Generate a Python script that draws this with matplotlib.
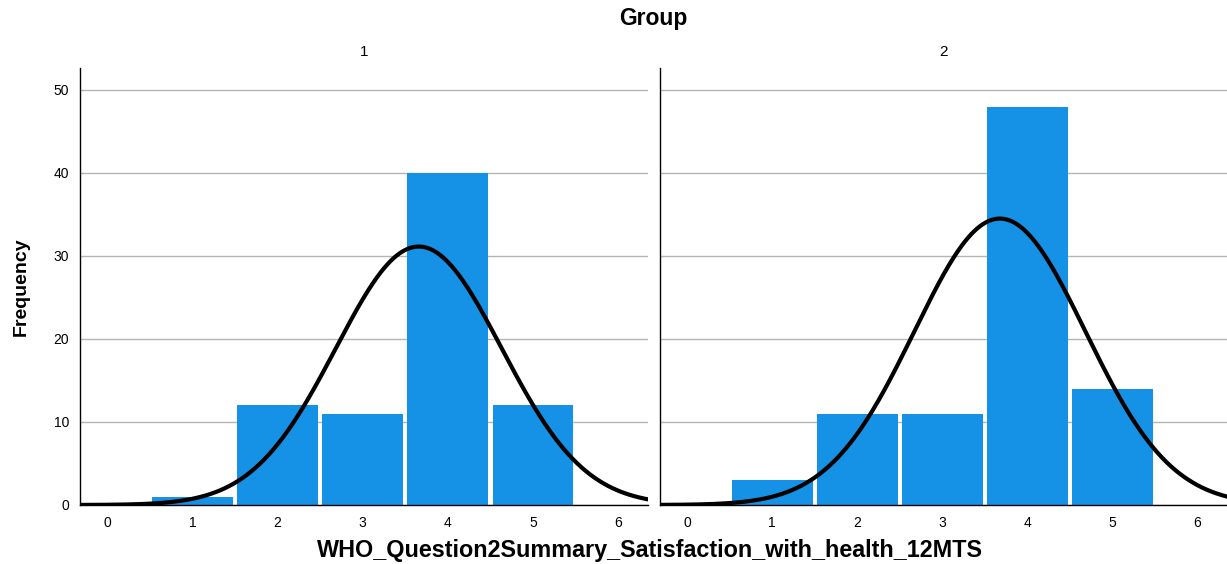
import numpy as np
import matplotlib
matplotlib.use("Agg")
import matplotlib.pyplot as plt

plt.rcParams['font.family'] = ['Liberation Sans', 'DejaVu Sans']

categories = [1, 2, 3, 4, 5]
group1_counts = [1, 12, 11, 40, 12]
group2_counts = [3, 11, 11, 48, 14]
group_labels = ["1", "2"]
x_ticks = [0, 1, 2, 3, 4, 5, 6]
y_ticks = [0, 10, 20, 30, 40, 50]

W, H = 1227, 564
fig = plt.figure(figsize=(W / 100, H / 100), dpi=100)

panels = [(80, 648), (660, 1227)]
bottom_px, top_px = 505, 68
bar_color = "#1591E5"

for i, (counts, label) in enumerate(zip([group1_counts, group2_counts], group_labels)):
    l, r = panels[i]
    ax = fig.add_axes([l / W, (H - bottom_px) / H, (r - l) / W, (bottom_px - top_px) / H])
    ax.bar(categories, counts, width=0.95, color=bar_color, zorder=2)
    vals = np.repeat(categories, counts)
    n = len(vals)
    mu = vals.mean()
    sd = vals.std(ddof=1)
    xs = np.linspace(-0.4, 6.5, 400)
    ys = n * np.exp(-0.5 * ((xs - mu) / sd) ** 2) / (sd * np.sqrt(2 * np.pi))
    ax.plot(xs, ys, color="black", lw=3, zorder=3, solid_capstyle="butt")
    ax.set_xlim(-0.32, 6.35)
    ax.set_ylim(0, 52.65)
    ax.set_xticks(x_ticks)
    ax.set_xticklabels([str(t) for t in x_ticks], fontsize=10)
    ax.set_yticks(y_ticks)
    if i == 0:
        ax.set_yticklabels([str(t) for t in y_ticks], fontsize=10)
    else:
        ax.set_yticklabels([])
    ax.tick_params(axis="both", length=0, pad=8)
    ax.grid(axis="y", color="#b4b4b4", lw=1, zorder=0)
    ax.set_axisbelow(True)
    for s in ["top", "right"]:
        ax.spines[s].set_visible(False)
    ax.spines["left"].set_color("black")
    ax.spines["bottom"].set_color("black")
    ax.spines["left"].set_linewidth(1)
    ax.spines["bottom"].set_linewidth(1)
    fig.text((l + r) / 2 / W, 1 - 52 / H, label, ha="center", va="center", fontsize=11)

fig.text(21 / W, 1 - 287 / H, "Frequency", ha="center", va="center", rotation=90,
         fontsize=14, fontweight="bold", stretch="condensed")
fig.text(653 / W, 1 - 18 / H, "Group", ha="center", va="center", fontsize=16.5, fontweight="bold")
fig.text(650 / W, 1 - 550 / H, "WHO_Question2Summary_Satisfaction_with_health_12MTS",
         ha="center", va="center", fontsize=16.8, fontweight="bold")

fig.savefig("out.png", dpi=100)
